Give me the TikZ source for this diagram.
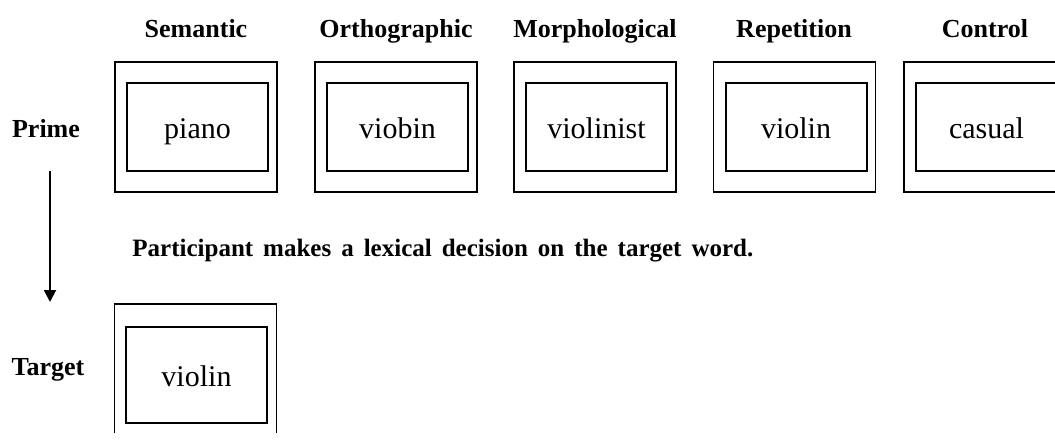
\documentclass[tikz,border=0pt]{standalone}
\usepackage{fontspec}
\setmainfont{Liberation Serif}
\usetikzlibrary{arrows.meta}

\begin{document}
\begin{tikzpicture}[
  x=0.5pt,y=-0.5pt,
  frame/.style={draw,line width=0.9pt,minimum width=81pt,minimum height=65pt,inner sep=0pt},
  word/.style={draw,line width=1pt,minimum width=70.5pt,minimum height=44pt,inner sep=0pt,
    text height=14pt,text depth=3pt,font=\fontsize{15}{18}\selectfont},
  head/.style={anchor=base,font=\fontsize{13}{16}\selectfont\bfseries},
  ar/.style={-{Triangle[length=6pt,width=6pt]},line width=1pt}]
\useasboundingbox (0,0) rectangle (1055,441);
\begin{scope}
\clip (0,0) rectangle (1055,432);
% column heads
\node[head] (hsem) at (196,37) {Semantic};
\node[head] (hort) at (396,37) {Orthographic};
\node[head] (hmor) at (595,37) {Morphological};
\node[head] (hrep) at (794,37) {Repetition};
\node[head] (hcon) at (985,37) {Control};
% prime row
\node[head] (prime) at (46,137) {Prime};
\node[frame] (sem) at (196,127) {};
\node[word] (semw) at (197.5,127) {piano};
\node[frame] (ort) at (396,127) {};
\node[word] (ortw) at (397.5,127) {viobin};
\node[frame] (mor) at (595,127) {};
\node[word] (morw) at (596.5,127) {violinist};
\node[frame] (rep) at (794.5,127) {};
\node[word] (repw) at (796,127) {violin};
\node[frame] (con) at (985,127) {};
\node[word] (conw) at (986.5,127) {casual};
% task
\node[anchor=base west,inner sep=0pt,font=\fontsize{12.5}{15}\selectfont\bfseries] (task) at (132,256)
  {\spaceskip=5pt Participant makes a lexical decision on the target word.};
% target row
\node[head] (target) at (48,375) {Target};
\node[frame,minimum height=71pt] (tgt) at (195.5,375) {};
\node[word,minimum height=48pt] (tgtw) at (196.5,375) {violin};
\coordinate (from) at (50,171);
\coordinate (to) at (50,302);
\draw[ar] (from) -- (to);
\end{scope}
\end{tikzpicture}
\end{document}
